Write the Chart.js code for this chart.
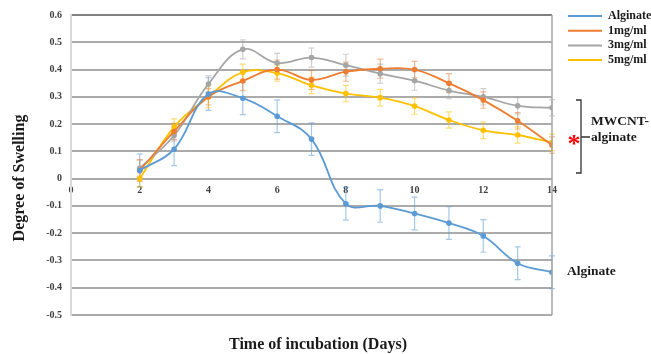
<!DOCTYPE html>
<html>
<head>
<meta charset="utf-8">
<script src="https://cdn.jsdelivr.net/npm/chart.js@4.4.1/dist/chart.umd.min.js"></script>
<style>
 html,body{margin:0;padding:0;background:#fff;}
 #wrap{position:relative;width:651px;height:354px;}
</style>
</head>
<body>
<div id="wrap"><canvas id="chartID" width="651" height="354"></canvas></div>
<script>
// data
var days=[2,3,4,5,6,7,8,9,10,11,12,13,14];
var seriesNames=['Alginate','1mg/ml','3mg/ml','5mg/ml'];
var seriesColors=['#5B9BD5','#ED7D31','#A5A5A5','#FFC000'];
var alginate=[0.03,0.108,0.31,0.295,0.229,0.145,-0.092,-0.10,-0.128,-0.163,-0.21,-0.31,-0.343];
var mg1=[0.03,0.173,0.30,0.358,0.40,0.362,0.392,0.403,0.40,0.35,0.288,0.212,0.123];
var mg3=[0.038,0.158,0.347,0.474,0.424,0.444,0.416,0.385,0.359,0.323,0.30,0.267,0.26];
var mg5=[0,0.189,0.30,0.39,0.387,0.342,0.312,0.297,0.266,0.215,0.177,0.16,0.133];
var errAlginate=[0.06,0.06,0.06,0.06,0.06,0.06,0.06,0.06,0.06,0.06,0.06,0.06,0.06];
var err1=[0.04,0.03,0.03,0.035,0.035,0.035,0.035,0.035,0.03,0.035,0.03,0.03,0.03];
var err3=[0.03,0.02,0.03,0.035,0.035,0.035,0.04,0.035,0.035,0.03,0.03,0.03,0.03];
var err5=[0.03,0.03,0.04,0.03,0.03,0.03,0.03,0.03,0.03,0.03,0.03,0.03,0.03];
var yTicks=[0.6,0.5,0.4,0.3,0.2,0.1,0,-0.1,-0.2,-0.3,-0.4,-0.5];
var xTicks=[0,2,4,6,8,10,12,14];

var values=[alginate,mg1,mg3,mg5];
var errors=[errAlginate,err1,err3,err5];
var serif='"Liberation Serif","Times New Roman",serif';

function pts(arr) {
 var out=[];
 for (var i=0; i<days.length; i++) {out.push({x:days[i],y:arr[i]});}
 return out;
}
function hexA(hex,a) {
 var r=parseInt(hex.substr(1,2),16),g=parseInt(hex.substr(3,2),16),b=parseInt(hex.substr(5,2),16);
 return 'rgba('+r+','+g+','+b+','+a+')';
}

var sets=[];
for (var s=0; s<values.length; s++) {
 sets.push({label:seriesNames[s], data:pts(values[s]), borderColor:seriesColors[s], backgroundColor:seriesColors[s],
  borderWidth:1.8, pointRadius:2.8, pointHoverRadius:2.8, pointBorderWidth:0, tension:0.4, errs:errors[s]});
}

// error bars, drawn under the lines
var errorBars={id:'errorBars',
 beforeDatasetsDraw:function(chart) {
  var c=chart.ctx, xs=chart.scales.x, ys=chart.scales.y;
  c.save();
  chart.data.datasets.forEach(function(ds) {
   c.strokeStyle=hexA(ds.borderColor,0.55);
   c.lineWidth=1.2;
   ds.data.forEach(function(p,i) {
    var px=xs.getPixelForValue(p.x);
    var top=ys.getPixelForValue(p.y+ds.errs[i]), bot=ys.getPixelForValue(p.y-ds.errs[i]);
    c.beginPath();
    c.moveTo(px,top); c.lineTo(px,bot);
    c.moveTo(px-3,top); c.lineTo(px+3,top);
    c.moveTo(px-3,bot); c.lineTo(px+3,bot);
    c.stroke();
   });
  });
  c.restore();
 }
};

// frame, legend, titles, bracket annotation
var extras={id:'extras',
 afterDraw:function(chart) {
  var c=chart.ctx, a=chart.chartArea;
  c.save();
  // right border
  c.strokeStyle='#A6A6A6'; c.lineWidth=1.5;
  c.beginPath(); c.moveTo(a.right,a.top); c.lineTo(a.right,a.bottom); c.stroke();
  // legend
  c.font='bold 12px '+serif; c.textBaseline='middle'; c.textAlign='left';
  chart.data.datasets.forEach(function(ds,i) {
   var y=16+i*14.7;
   c.strokeStyle=ds.borderColor; c.lineWidth=2;
   c.beginPath(); c.moveTo(568,y); c.lineTo(602,y); c.stroke();
   c.fillStyle='#1a1a1a'; c.fillText(ds.label,608,y);
  });
  // bracket
  c.strokeStyle='#333'; c.lineWidth=1.3;
  c.beginPath();
  c.moveTo(576,100); c.lineTo(581,100); c.lineTo(581,173); c.lineTo(576,173);
  c.moveTo(581,137); c.lineTo(590,137);
  c.stroke();
  c.fillStyle='#FF0000'; c.font='bold 26px '+serif; c.textAlign='center';
  c.fillText('*',574,145);
  c.fillStyle='#1a1a1a'; c.font='bold 13.5px '+serif; c.textAlign='left';
  c.fillText('MWCNT-',591,122);
  c.fillText('alginate',591,138);
  c.fillText('Alginate',567,272);
  // axis titles
  c.font='bold 16px '+serif; c.textAlign='center';
  c.fillText('Time of incubation (Days)',318,345);
  c.translate(20,178); c.rotate(-Math.PI/2);
  c.fillText('Degree of Swelling',0,0);
  c.restore();
 }
};

var ctx=document.getElementById('chartID').getContext('2d');
var chart=new Chart(ctx,{type:'line',
 data:{datasets:sets},
 options:{responsive:false, animation:false, maintainAspectRatio:false,
  layout:{padding:{left:0,right:99,top:15,bottom:39}},
  plugins:{legend:{display:false}, title:{display:false}, tooltip:{enabled:false}},
  scales:{
   x:{type:'linear', min:0, max:14, position:{y:0},
    afterBuildTicks:function(sc){sc.ticks=xTicks.map(function(v){return {value:v};});},
    afterFit:function(sc){sc.height=0;},
    grid:{display:false, drawTicks:false}, border:{display:false},
    ticks:{padding:6, color:'#404040', font:{family:serif, size:10, weight:'bold'}}},
   y:{type:'linear', min:-0.5, max:0.6,
    afterBuildTicks:function(sc){sc.ticks=yTicks.map(function(v){return {value:v};});},
    afterFit:function(sc){sc.width=71;},
    grid:{drawTicks:false, lineWidth:2, color:function(cx){return cx.tick && cx.tick.value==0.6?'#808080':'#ABABAB';}},
    border:{display:true, color:'#D9D9D9', width:2},
    ticks:{padding:9, color:'#404040', font:{family:serif, size:10, weight:'bold'},
     callback:function(v){return Math.round(v*10)/10;}}}
  }
 },
 plugins:[errorBars,extras]
});
</script>
</body>
</html>
